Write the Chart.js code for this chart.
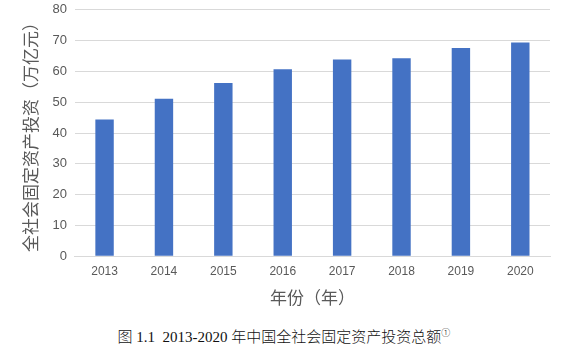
<!DOCTYPE html>
<html>
<head>
    <meta charset="utf-8">
    <title>全社会固定资产投资</title>
    <style>
        body { margin: 0; background: #fff; }
        #box { position: relative; width: 568px; height: 318px; margin-top: -6px; }
        .legenda {
            text-align: center;
            font-family: "Liberation Serif", "Noto Sans CJK SC", serif;
            font-size: 15px;
            font-weight: 300;
            color: #111;
            margin-top: 13px;
        }
        .legenda sup { font-size: 9px; }
    </style>
</head>
<body>
    <div id="box"><canvas id="grafico"></canvas></div>
    <div class="legenda">图 1.1&nbsp; 2013-2020 年中国全社会固定资产投资总额<sup>①</sup></div>

    <script src="https://cdn.jsdelivr.net/npm/chart.js@4/dist/chart.umd.min.js"></script>
    <script>
        var anos = ['2013', '2014', '2015', '2016', '2017', '2018', '2019', '2020'];
        var investimento = [44.4, 51.1, 56.2, 60.7, 63.9, 64.3, 67.6, 69.4];
        var cinza = '#595959';

        var ctx = document.getElementById('grafico');
        new Chart(ctx, {
            type: 'bar',
            data: {
                labels: anos,
                datasets: [{
                    data: investimento,
                    backgroundColor: '#4472c4',
                    borderWidth: 0,
                    categoryPercentage: 1,
                    barPercentage: 0.31
                }]
            },
            options: {
                responsive: true,
                maintainAspectRatio: false,
                animation: false,
                layout: { padding: { top: 0, right: 18, left: 16 } },
                plugins: { legend: { display: false }, tooltip: { enabled: false } },
                scales: {
                    x: {
                        grid: { display: false, drawTicks: false },
                        border: { color: '#d9d9d9' },
                        ticks: { color: cinza, font: { size: 12, family: 'Liberation Sans' }, padding: 8 },
                        title: {
                            display: true, text: '年份（年）', color: cinza,
                            font: { size: 17, family: 'Noto Sans CJK SC' }, padding: { top: 1 }
                        }
                    },
                    y: {
                        min: 0, max: 80,
                        ticks: { stepSize: 10, color: cinza, font: { size: 13, family: 'Liberation Sans' }, padding: 8 },
                        grid: { color: '#d9d9d9', drawTicks: false },
                        border: { display: false },
                        title: {
                            display: true, text: '全社会固定资产投资（万亿元）', color: cinza,
                            font: { size: 17, family: 'Noto Sans CJK SC' }, padding: { bottom: 4 }
                        }
                    }
                }
            }
        });
    </script>
</body>
</html>
